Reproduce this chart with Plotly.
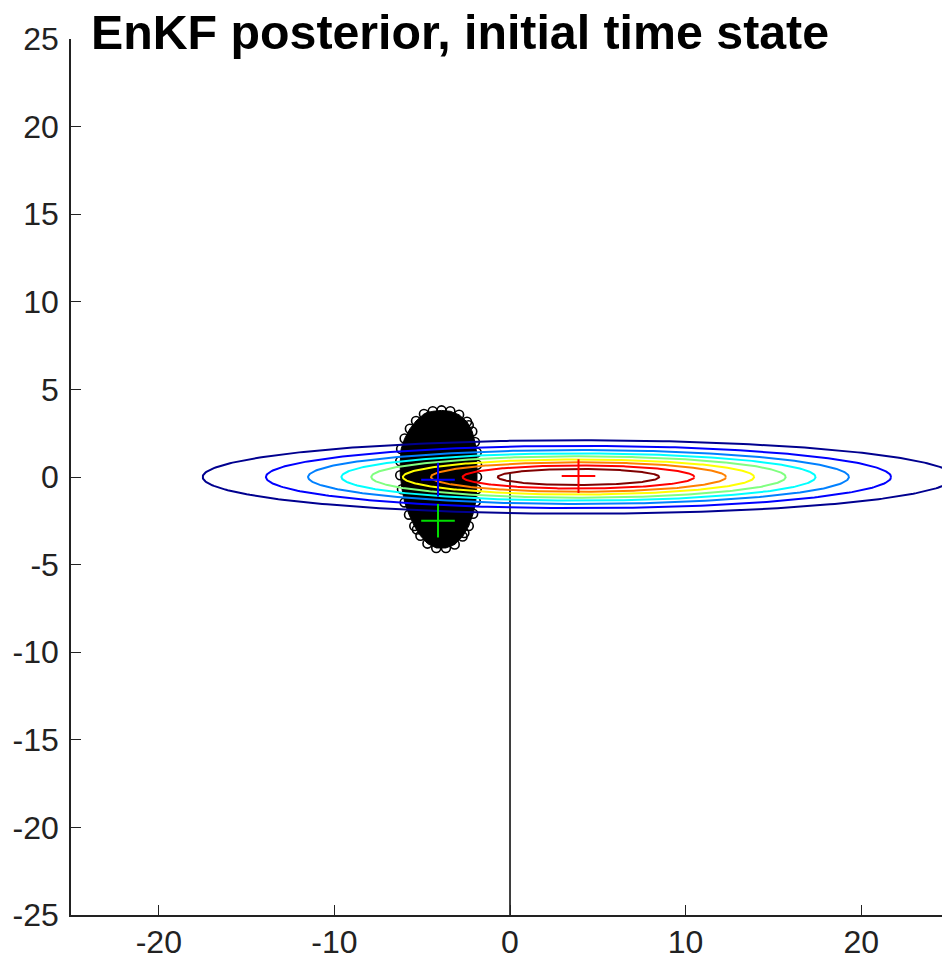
import numpy as np
import plotly.graph_objects as go

# ---------------- data ----------------
title_text = "EnKF posterior, initial time state"

x_ticks = [-20, -10, 0, 10, 20]
y_ticks = [-25, -20, -15, -10, -5, 0, 5, 10, 15, 20, 25]

# contour ellipses of the posterior density (outer -> inner)
contour_center_x = 3.9
contour_center_y = 0.0
contour_half_x = [21.4, 17.8, 15.4, 13.5, 11.8, 10.0, 8.4, 6.6, 4.6]
contour_half_y = [2.10, 1.78, 1.54, 1.35, 1.18, 1.00, 0.84, 0.66, 0.46]
contour_colors = ["#00008f", "#0000ff", "#0080ff", "#00ffff", "#80ff80",
                  "#ffff00", "#ff8000", "#ff0000", "#800000"]

# ensemble members (outer ring of the dense cloud)
ens_x = [-4.9, -4.4, -3.9, -3.4, -2.9, -2.45, -2.15, -2.0, -1.9, -1.88, -1.88,
         -1.9, -1.95, -2.1, -2.35, -2.7, -3.15, -3.65, -4.2, -4.7, -5.1, -5.45,
         -5.75, -6.0, -6.15, -6.25, -6.25, -6.2, -6.0, -5.7, -5.35]
ens_y = [3.6, 3.75, 3.8, 3.75, 3.55, 3.15, 2.6, 2.0, 1.4, 0.7, 0.0,
         -0.7, -1.4, -2.1, -2.8, -3.4, -3.85, -4.05, -4.05, -3.8, -3.35, -2.8,
         -2.15, -1.45, -0.7, 0.1, 0.9, 1.6, 2.2, 2.75, 3.2]
# a few inner members whose rings show through
ens_in_x = [-2.35, -5.6, -4.6, -3.3, -2.6, -5.3]
ens_in_y = [2.95, 2.3, 3.45, -3.6, -3.2, -3.0]

# observation line at x = 0
obs_x = [0, 0]
obs_y = [0.25, -25]

# point estimates
blue_x, blue_y = [-4.1], [-0.15]
green_x, green_y = [-4.1], [-2.5]
red_x, red_y = [3.9], [0.05]

# ---------------- figure ----------------
fig = go.Figure()

# dense ensemble core
fig.add_trace(go.Scatter(x=ens_x + [ens_x[0]], y=ens_y + [ens_y[0]], mode="lines",
                         fill="toself", fillcolor="black",
                         line=dict(color="black", width=1), hoverinfo="skip"))
fig.add_trace(go.Scatter(x=ens_x + ens_in_x, y=ens_y + ens_in_y, mode="markers",
                         marker=dict(symbol="circle-open", size=9,
                                     line=dict(color="black", width=1.6),
                                     color="black")))

# observation line
fig.add_trace(go.Scatter(x=obs_x, y=obs_y, mode="lines",
                         line=dict(color="black", width=1.5)))

# contour ellipses
t = np.linspace(0, 2 * np.pi, 361)
for hx, hy, col in zip(contour_half_x, contour_half_y, contour_colors):
    fig.add_trace(go.Scatter(x=contour_center_x + hx * np.cos(t),
                             y=contour_center_y + hy * np.sin(t),
                             mode="lines", line=dict(color=col, width=2)))

# plus markers
for px, py, col in [(blue_x, blue_y, "#0000ff"), (green_x, green_y, "#00dd00"),
                    (red_x, red_y, "#ff0000")]:
    fig.add_trace(go.Scatter(x=px, y=py, mode="markers",
                             marker=dict(symbol="cross-thin", size=24,
                                         line=dict(color=col, width=2))))

axis_font = dict(family="Liberation Sans, Arial, sans-serif", size=32, color="#222222")

fig.update_layout(
    width=942, height=961,
    margin=dict(l=71, r=0, t=39, b=46, autoexpand=False),
    paper_bgcolor="white", plot_bgcolor="white",
    showlegend=False,
    xaxis=dict(range=[-25, 24.6], tickvals=x_ticks, ticktext=[str(v) for v in x_ticks],
               ticks="inside", ticklen=10, tickwidth=1.3, tickcolor="#222222",
               showline=True, linecolor="#222222", linewidth=1.5,
               showgrid=False, zeroline=False, tickfont=axis_font,
               ticklabelstandoff=-2, automargin=False),
    yaxis=dict(range=[-25, 25], tickvals=y_ticks, ticktext=[str(v) for v in y_ticks],
               ticks="inside", ticklen=10, tickwidth=1.3, tickcolor="#222222",
               showline=True, linecolor="#222222", linewidth=1.5,
               showgrid=False, zeroline=False, tickfont=axis_font,
               ticklabelstandoff=4, automargin=False),
    annotations=[dict(text="<b>" + title_text + "</b>", xref="paper", yref="paper",
                      x=(89 - 71) / 871, y=1 + (39 - 32) / 876,
                      xanchor="left", yanchor="middle", showarrow=False,
                      font=dict(family="Liberation Sans, Arial, sans-serif",
                                size=48.3, color="black"))],
)

fig.write_html("out.html", config={"displayModeBar": False},
               post_script="document.body.style.margin='0';"
                           "document.body.style.overflow='hidden';")
